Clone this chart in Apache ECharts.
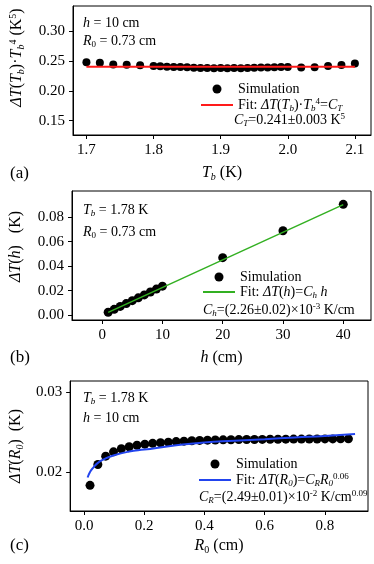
<!DOCTYPE html>
<html>
<head>
<meta charset="utf-8">
<script src="https://cdn.jsdelivr.net/npm/echarts@6/dist/echarts.min.js"></script>
<style>
  html, body { margin: 0; background: #fff; }
  #chart { width: 374px; height: 564px; }
</style>
</head>
<body>
<div id="chart"></div>
<script>
// (a) dT(Tb)*Tb^4 against Tb
const tbValues = [1.70, 1.72, 1.74, 1.76, 1.78, 1.80, 1.81, 1.82, 1.83, 1.84, 1.85, 1.86, 1.87, 1.88, 1.89, 1.90,
  1.91, 1.92, 1.93, 1.94, 1.95, 1.96, 1.97, 1.98, 1.99, 2.00, 2.02, 2.04, 2.06, 2.08, 2.10]
const tbSim = [0.2483, 0.2477, 0.2447, 0.2440, 0.2434, 0.2420, 0.2418, 0.2410, 0.2405, 0.2402, 0.2398, 0.2393, 0.2387, 0.2386, 0.2384, 0.2386,
  0.2384, 0.2386, 0.2384, 0.2386, 0.2390, 0.2394, 0.2397, 0.2400, 0.2404, 0.2405, 0.2396, 0.2400, 0.2420, 0.2436, 0.2462]
const tbFitX = [1.70, 2.10]
const tbFitY = [0.241, 0.241]
const tbTicksX = [1.7, 1.8, 1.9, 2.0, 2.1]
const tbTicksY = [0.15, 0.20, 0.25, 0.30]

// (b) dT(h) against h
const hValues = [1, 2, 3, 4, 5, 6, 7, 8, 9, 10, 20, 30, 40]
const hSim = [0.0023, 0.0047, 0.0071, 0.0094, 0.0118, 0.0141, 0.0165, 0.0189, 0.0213, 0.0237, 0.0470, 0.0690, 0.0906]
const hFitX = [1, 40]
const hFitY = [0.00226, 0.0904]
const hTicksX = [0, 10, 20, 30, 40]
const hTicksY = [0.00, 0.02, 0.04, 0.06, 0.08]

// (c) dT(R0) against R0
const r0Values = [0.020, 0.046, 0.072, 0.098, 0.124, 0.150, 0.176, 0.202, 0.228, 0.254, 0.280, 0.306, 0.332, 0.358, 0.384, 0.410, 0.436,
  0.462, 0.488, 0.514, 0.540, 0.566, 0.592, 0.618, 0.644, 0.670, 0.696, 0.722, 0.748, 0.774, 0.800, 0.826, 0.852, 0.878]
const r0Sim = [0.01832, 0.02093, 0.02198, 0.02252, 0.02290, 0.02315, 0.02335, 0.02348, 0.02358, 0.02366, 0.02373, 0.02380, 0.02386, 0.02391, 0.02395, 0.02398, 0.02400,
  0.02402, 0.02404, 0.02405, 0.02406, 0.02407, 0.02408, 0.02409, 0.02410, 0.02411, 0.02412, 0.02412, 0.02413, 0.02413, 0.02414, 0.02414, 0.02415, 0.02415]
const r0FitX = [0.012, 0.02, 0.03, 0.045, 0.067, 0.1, 0.15, 0.2, 0.3, 0.4, 0.5, 0.6, 0.7, 0.8, 0.9]
const r0FitY = [0.0193, 0.0200, 0.0205, 0.0211, 0.0216, 0.0221, 0.02255, 0.0228, 0.0233, 0.0237, 0.0239, 0.0241, 0.02432, 0.0245, 0.02475]
const r0TicksX = [0.0, 0.2, 0.4, 0.6, 0.8]
const r0TicksY = [0.02, 0.03]

const FONT = 'Liberation Serif'

function pairs (xs, ys) {
  return xs.map((x, i) => [x, ys[i]])
}

// rich styles for italic / sub / sup pieces
function richSet (size) {
  const s = Math.round(size * 0.64)
  const base = { fontFamily: FONT, fontSize: size, color: '#000', fill: '#000', lineHeight: size + 2 }
  return {
    n: base,
    i: Object.assign({}, base, { fontStyle: 'italic' }),
    sb: { fontFamily: FONT, fontSize: s, fontStyle: 'italic', color: '#000', fill: '#000', verticalAlign: 'top', padding: [Math.round(size * 0.5), 0, 0, 0] },
    sbn: { fontFamily: FONT, fontSize: s, color: '#000', fill: '#000', verticalAlign: 'top', padding: [Math.round(size * 0.5), 0, 0, 0] },
    sp: { fontFamily: FONT, fontSize: s, color: '#000', fill: '#000', verticalAlign: 'top', padding: [0, 0, 0, 0] }
  }
}

function xAxisOf (grid, min, max, ticks, digits, name, gap) {
  return {
    type: 'value',
    gridIndex: grid,
    min: min,
    max: max,
    axisLine: { show: true, onZero: false, lineStyle: { color: '#000', width: 1 } },
    axisTick: { show: true, inside: false, length: 4, customValues: ticks, lineStyle: { color: '#000' } },
    axisLabel: { customValues: ticks, formatter: v => v.toFixed(digits), color: '#000', fontFamily: FONT, fontSize: 15, margin: 8 },
    splitLine: { show: false },
    name: name,
    nameLocation: 'middle',
    nameGap: gap,
    nameTextStyle: { rich: richSet(16) }
  }
}

function yAxisOf (grid, min, max, ticks, digits, name, gap, shift) {
  return {
    type: 'value',
    gridIndex: grid,
    min: min,
    max: max,
    axisLine: { show: true, onZero: false, lineStyle: { color: '#000', width: 1 } },
    axisTick: { show: true, inside: false, length: 4, customValues: ticks, lineStyle: { color: '#000' } },
    axisLabel: { customValues: ticks, formatter: v => v.toFixed(digits), color: '#000', fontFamily: FONT, fontSize: 15, margin: 8 },
    splitLine: { show: false },
    name: name,
    nameLocation: 'middle',
    nameRotate: 90,
    nameGap: gap,
    nameTextStyle: { rich: richSet(16), padding: [0, 0, 0, shift] }
  }
}

function legendOf (left, top, sim, fit) {
  return {
    orient: 'vertical',
    left: left,
    top: top,
    padding: 0,
    itemWidth: 32,
    itemHeight: 9,
    itemGap: 1,
    data: [{ name: sim, icon: 'circle' }, { name: fit, itemStyle: { opacity: 0 } }],
    formatter: n => legendText[n],
    textStyle: { rich: richSet(14) }
  }
}

function note (x, y, text, size) {
  return {
    type: 'text',
    x: x,
    y: y,
    style: { text: text, rich: richSet(size), fontFamily: FONT, fontSize: size, fill: '#000', verticalAlign: 'middle' }
  }
}

const legendText = {
  simA: '{n|Simulation}',
  fitA: '{n|Fit: }{i|ΔT}{n|(}{i|T}{sb|b}{n|)·}{i|T}{sb|b}{sp|4}{n|=}{i|C}{sb|T}',
  simB: '{n|Simulation}',
  fitB: '{n|Fit: }{i|ΔT}{n|(}{i|h}{n|)=}{i|C}{sb|h}{i| h}',
  simC: '{n|Simulation}',
  fitC: '{n|Fit: }{i|ΔT}{n|(}{i|R}{sb|0}{n|)=}{i|C}{sb|R}{i|R}{sb|0}{sp|0.06}'
}

const myChart = echarts.init(document.getElementById('chart'))

const option = {
  backgroundColor: '#fff',
  animation: false,
  grid: [
    { left: 72, top: 6, width: 299, height: 129, show: true, borderColor: '#000', borderWidth: 1 },
    { left: 72, top: 191, width: 299, height: 129, show: true, borderColor: '#000', borderWidth: 1 },
    { left: 68, top: 381, width: 300, height: 130, show: true, borderColor: '#000', borderWidth: 1 }
  ],
  xAxis: [
    xAxisOf(0, 1.68, 2.124, tbTicksX, 1, '{i|T}{sb|b}{n| (K)}', 29),
    xAxisOf(1, -5, 44.6, hTicksX, 0, '{i|h}{n| (cm)}', 29),
    xAxisOf(2, -0.046, 0.943, r0TicksX, 1, '{i|R}{sbn|0}{n| (cm)}', 26)
  ],
  yAxis: [
    yAxisOf(0, 0.126, 0.343, tbTicksY, 2, '{i|ΔT}{n|(}{i|T}{sb|b}{n|)·}{i|T}{sb|b}{sp|4}{n| (K}{sp|5}{n|)}', 47, 26),
    yAxisOf(1, -0.004, 0.1015, hTicksY, 2, '{i|ΔT}{n|(}{i|h}{n|)   (K)}', 47, 18),
    yAxisOf(2, 0.0151, 0.0314, r0TicksY, 2, '{i|ΔT}{n|(}{i|R}{sb|0}{n|)  (K)}', 45, 0)
  ],
  legend: [
    legendOf(200, 82, 'simA', 'fitA'),
    legendOf(202, 270, 'simB', 'fitB'),
    legendOf(198, 457, 'simC', 'fitC')
  ],
  graphic: [
    note(83, 23, '{i|h}{n| = 10 cm}', 14),
    note(83, 41, '{i|R}{sbn|0}{n| = 0.73 cm}', 14),
    note(234, 120, '{i|C}{sb|T}{n|=0.241±0.003 K}{sp|5}', 14),
    note(83, 210, '{i|T}{sb|b}{n| = 1.78 K}', 14),
    note(83, 232, '{i|R}{sbn|0}{n| = 0.73 cm}', 14),
    note(203, 310, '{i|C}{sb|h}{n|=(2.26±0.02)×10}{sp|-3}{n| K/cm}', 14),
    note(83, 398, '{i|T}{sb|b}{n| = 1.78 K}', 14),
    note(83, 418, '{i|h}{n| = 10 cm}', 14),
    note(199, 497, '{i|C}{sb|R}{n|=(2.49±0.01)×10}{sp|-2}{n| K/cm}{sp|0.09}', 14),
    note(10, 174, '{n|(a)}', 17),
    note(10, 358, '{n|(b)}', 17),
    note(10, 546, '{n|(c)}', 17)
  ],
  series: [
    { name: 'simA', type: 'scatter', xAxisIndex: 0, yAxisIndex: 0, data: pairs(tbValues, tbSim), symbolSize: 8, itemStyle: { color: '#000', opacity: 1 }, z: 2 },
    { name: 'fitA', type: 'line', xAxisIndex: 0, yAxisIndex: 0, data: pairs(tbFitX, tbFitY), symbol: 'none', lineStyle: { color: '#ff1a1a', width: 2 }, itemStyle: { color: '#ff1a1a' }, z: 3 },
    { name: 'simB', type: 'scatter', xAxisIndex: 1, yAxisIndex: 1, data: pairs(hValues, hSim), symbolSize: 9, itemStyle: { color: '#000', opacity: 1 }, z: 2 },
    { name: 'fitB', type: 'line', xAxisIndex: 1, yAxisIndex: 1, data: pairs(hFitX, hFitY), symbol: 'none', lineStyle: { color: '#33b022', width: 1.5 }, itemStyle: { color: '#33b022' }, z: 3 },
    { name: 'simC', type: 'scatter', xAxisIndex: 2, yAxisIndex: 2, data: pairs(r0Values, r0Sim), symbolSize: 9, itemStyle: { color: '#000', opacity: 1 }, z: 2 },
    { name: 'fitC', type: 'line', xAxisIndex: 2, yAxisIndex: 2, data: pairs(r0FitX, r0FitY), symbol: 'none', smooth: true, lineStyle: { color: '#2244ee', width: 2 }, itemStyle: { color: '#2244ee' }, z: 3 }
  ]
}

myChart.setOption(option)
</script>
</body>
</html>
